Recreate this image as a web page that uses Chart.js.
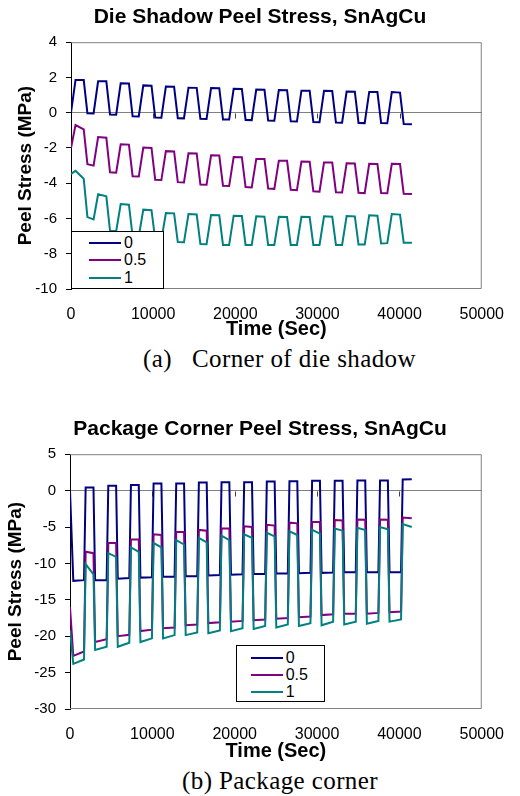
<!DOCTYPE html>
<html>
<head>
<meta charset="utf-8">
<script src="https://cdn.jsdelivr.net/npm/chart.js@4.4.0/dist/chart.umd.min.js"></script>
<style>
  html, body { margin: 0; padding: 0; background: #fff; }
  body { width: 520px; height: 796px; position: relative; overflow: hidden; font-family: Arial, "Liberation Sans", sans-serif; }
  canvas { position: absolute; left: 0; }
  #chartA { top: 0; }
  #chartB { top: 400px; }
  .caption { position: absolute; font-family: "Liberation Serif", "Times New Roman", serif; font-size: 25px; letter-spacing: 0.4px; line-height: 25px; white-space: pre; color: #000; }
  .legend { position: absolute; background: #fff; border: 1px solid #000; box-sizing: border-box; }
  .legend .row { position: absolute; height: 18px; line-height: 18px; display: flex; align-items: center; font-size: 16px; color: #000; }
  .legend .swatch { display: inline-block; width: 32px; height: 2px; margin-right: 3px; }
</style>
</head>
<body>
<canvas id="chartA" width="520" height="345"></canvas>
<canvas id="chartB" width="520" height="366"></canvas>
<div id="legendA" class="legend" style="left:71px;top:231px;width:93px;height:58px"></div>
<div id="legendB" class="legend" style="left:236px;top:645px;width:89px;height:57px"></div>
<div class="caption" style="left:143px;top:346px">(a)</div>
<div class="caption" style="left:192px;top:346px">Corner of die shadow</div>
<div class="caption" style="left:182px;top:768px">(b) Package corner</div>
<script>
// ---------- data ----------
const seriesNames = ["0", "0.5", "1"];
const seriesColors = ["#000080", "#800080", "#008080"];
const xTicks = [0, 10000, 20000, 30000, 40000, 50000];

// (a) corner of die shadow
const yTicksA = [4, 2, 0, -2, -4, -6, -8, -10];
const timeA = [
  0, 550, 1550, 2000,
  2750, 3300, 4300, 4750,
  5500, 6050, 7050, 7500,
  8250, 8800, 9800, 10250,
  11000, 11550, 12550, 13000,
  13750, 14300, 15300, 15750,
  16500, 17050, 18050, 18500,
  19250, 19800, 20800, 21250,
  22000, 22550, 23550, 24000,
  24750, 25300, 26300, 26750,
  27500, 28050, 29050, 29500,
  30250, 30800, 31800, 32250,
  33000, 33550, 34550, 35000,
  35750, 36300, 37300, 37750,
  38500, 39050, 40050, 40500,
  41500
];
const dieZero = [
  0, 1.85, 1.85, -0.03,
  -0.04, 1.78, 1.78, -0.10,
  -0.11, 1.67, 1.66, -0.20,
  -0.21, 1.55, 1.53, -0.27,
  -0.28, 1.48, 1.47, -0.31,
  -0.32, 1.42, 1.41, -0.35,
  -0.36, 1.40, 1.39, -0.38,
  -0.39, 1.36, 1.35, -0.41,
  -0.42, 1.31, 1.30, -0.45,
  -0.46, 1.29, 1.28, -0.49,
  -0.50, 1.25, 1.24, -0.53,
  -0.54, 1.24, 1.23, -0.56,
  -0.57, 1.20, 1.19, -0.58,
  -0.59, 1.18, 1.17, -0.59,
  -0.60, 1.17, 1.14, -0.64,
  -0.66
];
const dieHalf = [
  -2.00, -0.70, -0.95, -2.92,
  -3.00, -1.38, -1.42, -3.38,
  -3.40, -1.79, -1.81, -3.60,
  -3.62, -1.98, -2.00, -3.80,
  -3.82, -2.18, -2.20, -3.94,
  -3.96, -2.30, -2.31, -4.07,
  -4.09, -2.42, -2.43, -4.14,
  -4.16, -2.51, -2.52, -4.22,
  -4.24, -2.62, -2.63, -4.30,
  -4.32, -2.72, -2.73, -4.37,
  -4.39, -2.77, -2.78, -4.46,
  -4.48, -2.82, -2.83, -4.51,
  -4.53, -2.87, -2.88, -4.54,
  -4.56, -2.90, -2.91, -4.56,
  -4.57, -2.90, -2.91, -4.60,
  -4.61
];
const dieOne = [
  -3.47, -3.30, -3.75, -5.92,
  -6.05, -4.63, -4.74, -6.70,
  -6.72, -5.18, -5.22, -7.00,
  -7.02, -5.50, -5.53, -7.20,
  -7.22, -5.69, -5.71, -7.34,
  -7.35, -5.75, -5.77, -7.45,
  -7.46, -5.80, -5.82, -7.50,
  -7.50, -5.84, -5.86, -7.50,
  -7.50, -5.88, -5.90, -7.50,
  -7.50, -5.90, -5.92, -7.50,
  -7.50, -5.90, -5.92, -7.50,
  -7.50, -5.88, -5.90, -7.50,
  -7.50, -5.86, -5.88, -7.48,
  -7.48, -5.82, -5.84, -7.42,
  -7.40, -5.75, -5.78, -7.38,
  -7.38
];

// (b) package corner
const yTicksB = [5, 0, -5, -10, -15, -20, -25, -30];
const timeB = [
  0, 400,
  1700, 1900, 2850, 3050,
  4450, 4650, 5600, 5800,
  7200, 7400, 8350, 8550,
  9950, 10150, 11100, 11300,
  12700, 12900, 13850, 14050,
  15450, 15650, 16600, 16800,
  18200, 18400, 19350, 19550,
  20950, 21150, 22100, 22300,
  23700, 23900, 24850, 25050,
  26450, 26650, 27600, 27800,
  29200, 29400, 30350, 30550,
  31950, 32150, 33100, 33300,
  34700, 34900, 35850, 36050,
  37450, 37650, 38600, 38800,
  40200, 40400, 41500
];
const pkgZero = [
  0, -12.4,
  -12.3, 0.43, 0.43, -12.3,
  -12.3, 0.66, 0.66, -12.1,
  -12.0, 0.76, 0.76, -11.95,
  -11.9, 0.97, 0.97, -11.85,
  -11.85, 0.99, 0.99, -11.75,
  -11.75, 1.12, 1.12, -11.65,
  -11.6, 1.13, 1.13, -11.55,
  -11.5, 1.16, 1.16, -11.45,
  -11.45, 1.26, 1.26, -11.4,
  -11.4, 1.27, 1.27, -11.35,
  -11.3, 1.35, 1.35, -11.3,
  -11.25, 1.36, 1.36, -11.2,
  -11.2, 1.38, 1.38, -11.2,
  -11.2, 1.38, 1.38, -11.2,
  -11.2, 1.53, 1.55
];
const pkgHalf = [
  -16.0, -22.7,
  -22.1, -8.4, -8.6, -20.8,
  -20.4, -7.2, -7.2, -20.0,
  -19.8, -6.7, -6.7, -19.3,
  -19.1, -6.0, -6.1, -18.9,
  -18.8, -5.7, -5.7, -18.5,
  -18.4, -5.4, -5.5, -18.2,
  -18.1, -5.2, -5.2, -18.0,
  -17.9, -4.9, -5.0, -17.8,
  -17.7, -4.7, -4.8, -17.6,
  -17.5, -4.4, -4.5, -17.4,
  -17.3, -4.3, -4.3, -17.1,
  -17.0, -4.05, -4.1, -16.9,
  -16.9, -3.97, -4.0, -16.9,
  -16.8, -3.97, -4.0, -16.7,
  -16.6, -3.7, -3.8
];
const pkgOne = [
  -19.2, -23.8,
  -23.2, -10.1, -11.5, -21.9,
  -21.45, -8.6, -9.1, -21.45,
  -20.9, -7.8, -8.4, -20.8,
  -20.3, -7.2, -7.8, -20.3,
  -19.85, -6.8, -7.4, -19.85,
  -19.5, -6.5, -7.1, -19.6,
  -19.2, -6.2, -6.8, -19.3,
  -18.9, -6.0, -6.5, -19.0,
  -18.6, -5.8, -6.3, -18.8,
  -18.4, -5.6, -6.1, -18.6,
  -18.2, -5.4, -5.9, -18.5,
  -18.0, -5.2, -5.5, -18.4,
  -18.0, -5.1, -5.4, -18.3,
  -17.9, -5.0, -5.3, -18.0,
  -17.7, -4.6, -5.0
];

// ---------- helpers ----------
Chart.defaults.font.family = 'Arial, "Liberation Sans", sans-serif';
Chart.defaults.color = "#000";

function toPoints(times, values) {
  return times.map((t, i) => ({ x: t, y: values[i] }));
}

// gray frame round the plot + little ticks on the zero line (Excel look)
const plotFrame = {
  id: "plotFrame",
  beforeDatasetsDraw(chart) {
    const { ctx, chartArea: a, scales } = chart;
    ctx.save();
    ctx.strokeStyle = "#808080";
    ctx.lineWidth = 1;
    ctx.beginPath();
    ctx.moveTo(a.left, a.top + 0.5);
    ctx.lineTo(a.right - 0.5, a.top + 0.5);
    ctx.lineTo(a.right - 0.5, a.bottom - 0.5);
    ctx.lineTo(a.left, a.bottom - 0.5);
    ctx.stroke();

    const y0 = Math.round(scales.y.getPixelForValue(0)) + 0.5;
    ctx.strokeStyle = "#404040";
    ctx.beginPath();
    scales.x.ticks.forEach((t) => {
      if (t.value <= scales.x.min || t.value >= scales.x.max) return;
      const x = Math.round(scales.x.getPixelForValue(t.value)) + 0.5;
      ctx.moveTo(x, y0);
      ctx.lineTo(x, y0 + 5);
    });
    ctx.stroke();
    ctx.restore();
  },
};

function makeChart(id, cfg) {
  const datasets = cfg.series.map((vals, i) => ({
    label: seriesNames[i],
    data: toPoints(cfg.times, vals),
    borderColor: seriesColors[i],
    backgroundColor: seriesColors[i],
    borderWidth: 2,
    pointRadius: 0,
    tension: 0,
    fill: false,
    order: 2 - i,
  }));

  return new Chart(document.getElementById(id), {
    type: "line",
    data: { datasets },
    plugins: [plotFrame],
    options: {
      responsive: false,
      animation: false,
      devicePixelRatio: 1,
      events: [],
      layout: { padding: 0 },
      plugins: {
        legend: { display: false },
        tooltip: { enabled: false },
        title: {
          display: true,
          text: cfg.title,
          color: "#000",
          font: { size: 21, weight: "bold" },
          padding: { top: cfg.titleTop, bottom: 12 },
        },
      },
      scales: {
        x: {
          type: "linear",
          min: 0,
          max: 50000,
          afterBuildTicks: (s) => { s.ticks = xTicks.map((v) => ({ value: v })); },
          afterFit: (s) => { s.height = cfg.xHeight; },
          grid: { display: false, drawTicks: false },
          border: { display: false },
          ticks: { padding: 16, font: { size: 16 }, maxRotation: 0, autoSkip: false, callback: (v) => String(v) },
          title: { display: true, text: "Time (Sec)", font: { size: 20, weight: "bold" }, padding: { top: 0, bottom: cfg.xTitleBottom } },
        },
        y: {
          type: "linear",
          min: cfg.yTicks[cfg.yTicks.length - 1],
          max: cfg.yTicks[0],
          afterBuildTicks: (s) => { s.ticks = cfg.yTicks.map((v) => ({ value: v })); },
          afterFit: (s) => { s.width = cfg.yWidth; },
          grid: {
            color: (c) => (c.tick && c.tick.value === 0 ? "#808080" : "rgba(0,0,0,0)"),
            tickColor: "#000",
            tickLength: 5,
          },
          border: { display: true, color: "#000", width: 1 },
          ticks: { padding: 9, font: { size: 15 } },
          title: { display: true, text: "Peel Stress (MPa)", font: { size: 19, weight: "bold" }, padding: { top: cfg.yTitleTop, bottom: 0 } },
        },
        pad: {
          type: "linear",
          axis: "y",
          position: "right",
          afterFit: (s) => { s.width = cfg.rightGap; },
          ticks: { display: false },
          grid: { display: false, drawTicks: false },
          border: { display: false },
        },
      },
    },
  });
}

// legend drawn as html from the chart's own legend items
function buildLegend(chart, boxId, rowCenters, lineLeft) {
  const box = document.getElementById(boxId);
  const items = chart.options.plugins.legend.labels
    .generateLabels(chart)
    .sort((a, b) => a.datasetIndex - b.datasetIndex);
  items.forEach((item, i) => {
    const row = document.createElement("div");
    row.className = "row";
    row.style.top = rowCenters[i] - 10 + "px";
    row.style.left = lineLeft - 1 + "px";
    row.innerHTML = `<span class="swatch" style="background:${item.strokeStyle}"></span><span>${item.text}</span>`;
    box.appendChild(row);
  });
}

// ---------- charts ----------
const chartA = makeChart("chartA", {
  title: "Die Shadow Peel Stress, SnAgCu",
  times: timeA,
  series: [dieZero, dieHalf, dieOne],
  yTicks: yTicksA,
  titleTop: 5,
  xHeight: 56,
  xTitleBottom: 4,
  yWidth: 71,
  yTitleTop: 14,
  rightGap: 38,
});

const chartB = makeChart("chartB", {
  title: "Package Corner Peel Stress, SnAgCu",
  times: timeB,
  series: [pkgZero, pkgHalf, pkgOne],
  yTicks: yTicksB,
  titleTop: 17,
  xHeight: 57,
  xTitleBottom: 3,
  yWidth: 70,
  yTitleTop: 4,
  rightGap: 27,
});

buildLegend(chartA, "legendA", [11.7, 29, 46.7], 18);
buildLegend(chartB, "legendB", [13.3, 30, 46.7], 14.7);
</script>
</body>
</html>
